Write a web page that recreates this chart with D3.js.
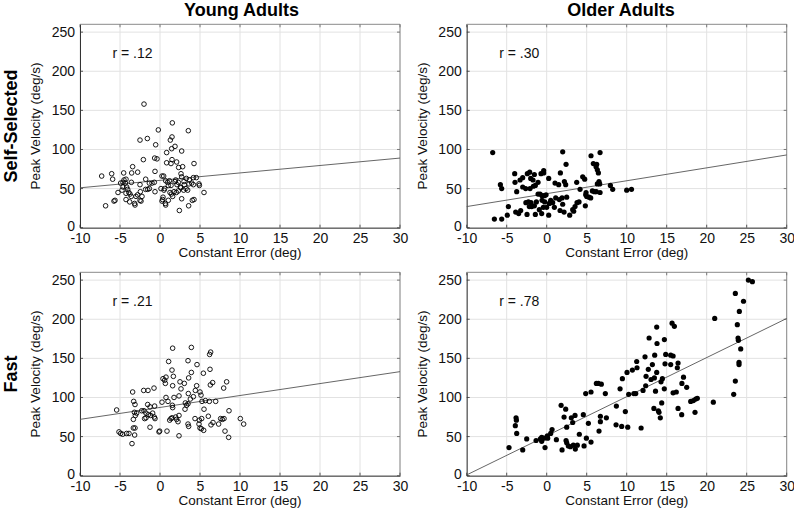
<!DOCTYPE html>
<html><head><meta charset="utf-8">
<script src="https://cdn.jsdelivr.net/npm/d3@7"></script>
<style>
html,body{margin:0;padding:0;background:#fff;}
svg{display:block;font-family:"Liberation Sans",Arial,Helvetica,sans-serif;}
</style></head>
<body>
<svg id="chart" width="794" height="512"></svg>
<script>
// ---------- data ----------
const xTicks = [-10, -5, 0, 5, 10, 15, 20, 25, 30];
const yTicks = [0, 50, 100, 150, 200, 250];
const columnTitles = ["Young Adults", "Older Adults"];
const rowTitles = ["Self-Selected", "Fast"];
const rLabels = ["r = .12", "r = .30", "r = .21", "r = .78"];
const xLabel = "Constant Error (deg)";
const yLabel = "Peak Velocity (deg/s)";

const youngSelf = [
[-2.0,158],[1.54,134],[3.54,124],[-0.21,125],[-1.58,114],[-2.5,112],[1.5,116],[1.29,112],[-0.54,106],[1.875,104],
[1.46,101],[2.71,98],[0.83,96],[-0.67,89],[-0.375,88],[-2.08,87],[1.5,87],[2.08,84],[0.83,83],[4.25,82],
[1.375,82],[2.33,77],[-3.42,78],[2.83,78],[-0.625,72],[-2.79,71],[-3.54,70],[-4.54,70],[-6.04,69],[-7.29,66],
[0.25,66],[0.46,66],[2.625,69],[2.71,65],[4.17,64],[4.54,64],[3.29,63],[3.67,61],[-5.92,62],[-4.5,61],
[-4.25,62],[-1.79,62],[-1.33,57],[-1.0,57],[-0.71,58],[-2.5,55],[-3.58,58],[-4.92,57],[-4.625,58],[-4.33,57],
[-4.17,52],[-4.04,49],[-4.625,52],[-4.75,48],[-5.25,45],[-4.25,44],[-3.9,45],[-3.75,43],[-4.25,36],[-3.79,33],
[-3.6,40],[-3.0,40],[-2.8,42],[-3.17,31],[-3.125,29],[-2.5,35],[-2.46,46],[-2.25,40],[-1.8,49],[-1.54,49],
[-0.625,46],[0.125,50],[0.58,50],[0.71,60],[0.96,58],[1.17,60],[1.375,54],[1.04,54],[1.875,59],[1.96,61],
[2.125,55],[2.29,58],[2.54,52],[2.29,47],[2.04,45],[1.75,46],[1.42,43],[1.25,45],[1.58,40],[3.0,59],
[3.04,55],[3.25,50],[2.96,48],[3.46,48],[3.625,56],[3.96,57],[4.17,55],[4.875,56],[4.92,54],[5.5,45],
[4.25,36],[4.04,35],[3.58,28],[2.71,37],[2.42,22],[0.375,39],[0.33,36],[0.25,34],[0.67,31],[1.04,35],
[0.71,29],[-6.8,28],[-5.75,34],[-5.625,35],[-2.375,34],[-1.33,50],[0.5,48],[2.6,51]
];
const olderSelf = [
[-6.75,96],[2.0,97],[6.67,96],[5.54,92],[2.42,81],[5.83,82],[6.25,81],[6.17,78],[6.33,74],[6.46,70],
[-0.375,73],[-0.375,70],[-4.0,69],[-2.125,71],[-2.42,69],[-1.54,68],[-0.71,69],[1.71,70],[4.5,65],[4.75,62],
[0.25,63],[-2.0,63],[-1.71,61],[-3.33,61],[2.21,59],[3.75,58],[6.54,59],[6.33,56],[6.625,56],[7.96,54],
[-3.96,58],[-1.08,58],[-5.79,55],[-5.625,50],[-3.0,64],[-3.0,52],[-2.625,50],[-1.67,53],[-1.42,54],[-2.08,50],
[1.04,57],[1.5,55],[2.375,55],[2.5,39],[4.17,49],[4.92,45],[4.875,42],[5.0,40],[5.29,39],[5.5,38],
[5.71,47],[5.96,46],[6.2,46],[6.67,45],[8.25,49],[10.0,48],[10.6,49],[-3.75,46],[-4.79,27],[-6.54,11],
[-5.625,11],[-4.92,16],[-3.875,20],[-3.5,18],[-3.25,22],[-2.46,17],[-2.6,32],[-2.29,33],[-1.96,32],[-1.875,27],
[-1.54,28],[-1.42,17],[-0.92,23],[-0.625,18],[-1.29,33],[-1.08,43],[-0.83,43],[-0.58,35],[-0.25,33],[0.0,26],
[-0.42,26],[0.25,16],[0.33,31],[0.75,32],[0.96,26],[1.125,38],[1.58,36],[1.92,38],[2.0,30],[1.67,22],
[2.17,20],[2.875,16],[3.25,23],[3.54,27],[3.79,32],[4.04,33],[3.375,21],[4.83,28],[-0.58,41],[-0.08,42],
[0.5,35],[-2.17,27],[-0.29,41]
];
const youngFast = [
[1.58,163],[3.92,164],[6.33,158],[6.2,155],[1.08,146],[3.5,147],[4.625,142],[1.5,135],[6.25,136],[3.92,132],
[5.42,131],[3.58,125],[0.375,124],[0.75,126],[0.58,122],[0.67,118],[1.67,127],[3.04,118],[2.5,120],[1.58,115],
[4.58,115],[6.58,119],[6.29,116],[8.33,120],[7.96,112],[4.42,109],[2.625,111],[-3.42,107],[-2.04,109],[-1.5,109],
[-0.75,112],[3.54,105],[5.0,107],[5.125,103],[4.17,101],[1.75,100],[2.375,102],[3.79,98],[0.75,100],[1.0,95],
[0.25,94],[-3.29,95],[-3.125,91],[-1.54,91],[-1.25,88],[-0.67,89],[1.54,90],[1.58,87],[3.17,93],[3.33,90],
[3.5,92],[3.125,85],[5.25,95],[5.67,96],[6.17,95],[6.96,95],[5.5,85],[8.625,83],[-5.42,84],[-2.92,80],
[-3.2,81],[-3.08,77],[-2.29,83],[-2.0,83],[-1.75,80],[-1.75,74],[-1.17,77],[-1.46,78],[-0.71,75],[-0.92,80],
[-1.92,73],[-3.33,72],[-0.625,73],[1.375,73],[1.5,74],[1.21,71],[1.96,75],[2.08,72],[2.375,77],[2.25,69],
[4.375,73],[4.92,71],[4.875,66],[5.21,73],[6.04,76],[6.625,68],[6.375,65],[7.33,66],[7.58,73],[7.79,72],
[8.0,73],[10.04,73],[10.46,66],[3.5,66],[3.58,63],[5.0,61],[5.17,60],[5.46,58],[8.125,57],[8.58,49],
[2.375,51],[0.875,57],[-0.125,56],[-0.04,57],[-1.25,62],[-3.33,61],[-3.125,61],[-3.17,52],[-5.125,56],[-4.92,54],
[-4.67,53],[-4.17,54],[-3.875,54],[-3.5,41]
];
const olderFast = [
[25.21,250],[25.71,248],[23.58,233],[24.6,223],[24.08,210],[21.0,201],[23.83,193],[23.92,176],[23.96,173],[24.25,162],
[24.04,145],[24.04,142],[23.58,121],[23.375,104],[20.83,94],[15.67,195],[15.96,191],[13.75,190],[12.8,176],[14.71,174],
[13.79,169],[13.5,154],[12.29,152],[14.875,155],[15.5,154],[15.8,153],[16.42,144],[16.33,138],[13.21,142],[11.25,146],
[11.29,138],[10.71,135],[10.04,132],[9.46,124],[12.7,136],[12.42,127],[13.04,123],[13.75,132],[13.46,125],[14.46,124],
[14.29,120],[14.79,143],[15.5,142],[17.1,126],[16.9,118],[17.5,113],[15.8,106],[16.2,107],[14.7,111],[13.6,108],
[12.04,109],[12.375,115],[11.13,105],[10.9,105],[10.25,104],[9.17,111],[9.83,82],[8.71,89],[10.13,62],[9.375,63],
[8.67,65],[11.8,61],[14.375,93],[13.4,86],[13.96,83],[14.04,81],[14.2,74],[16.42,86],[16.875,78],[18.0,95],
[18.33,96],[18.625,98],[18.83,99],[18.54,81],[6.21,118],[6.46,118],[6.83,117],[7.33,105],[5.54,107],[4.875,105],
[1.8,90],[2.375,85],[2.17,75],[3.08,74],[3.54,77],[4.58,78],[3.25,68],[2.5,62],[5.21,67],[6.71,76],
[6.71,69],[7.46,74],[6.54,57],[4.08,53],[0.67,59],[0.5,54],[0.08,51],[0.125,48],[-0.33,48],[-0.625,49],
[-0.79,47],[-0.625,44],[-0.21,36],[-1.33,45],[-2.5,47],[-3.83,74],[-3.79,71],[-3.92,64],[-3.75,54],[-4.71,36],
[-3.0,33],[1.21,46],[1.92,33],[2.5,42],[2.42,45],[2.71,38],[2.96,37],[3.33,39],[3.58,34],[3.83,39],
[4.67,38],[4.96,48],[5.54,43]
];

// regression lines (endpoints)
const youngSelfFit = [[-10, 51], [30, 89]];
const olderSelfFit = [[-10, 27], [30, 93]];
const youngFastFit = [[-10, 72], [30, 133]];
const olderFastFit = [[-10, 1], [30, 201]];

// ---------- layout ----------
const svg = d3.select("#chart");
svg.append("rect").attr("width", 794).attr("height", 512).attr("fill", "#fff");

const colLeft = [80, 466.7];
const rowBottom = [227.7, 475.7];
const pw = 320, ph = 203.4;
const FONT = '"Liberation Sans",Arial,Helvetica,sans-serif';
const fmt = d => String(d);

const panels = [
  {data: youngSelf, fit: youngSelfFit, r: rLabels[0], filled: false, col: 0, row: 0},
  {data: olderSelf, fit: olderSelfFit, r: rLabels[1], filled: true,  col: 1, row: 0},
  {data: youngFast, fit: youngFastFit, r: rLabels[2], filled: false, col: 0, row: 1},
  {data: olderFast, fit: olderFastFit, r: rLabels[3], filled: true,  col: 1, row: 1}
];

panels.forEach(p => {
  const left = colLeft[p.col], bottom = rowBottom[p.row], top = bottom - ph, right = left + pw;
  const x = d3.scaleLinear().domain([-10, 30]).range([left, right]);
  const y = d3.scaleLinear().domain([0, 260]).range([bottom, top]);
  const g = svg.append("g");

  // grid
  g.selectAll(".gx").data(xTicks).join("line")
    .attr("x1", d => x(d)).attr("x2", d => x(d)).attr("y1", top).attr("y2", bottom)
    .attr("stroke", "#e2e2e2").attr("stroke-width", 1);
  g.selectAll(".gy").data(yTicks).join("line")
    .attr("x1", left).attr("x2", right).attr("y1", d => y(d)).attr("y2", d => y(d))
    .attr("stroke", "#e2e2e2").attr("stroke-width", 1);

  // frame
  g.append("line").attr("x1", left).attr("x2", right).attr("y1", top).attr("y2", top).attr("stroke", "#8a8a8a");
  g.append("line").attr("x1", right).attr("x2", right).attr("y1", top).attr("y2", bottom).attr("stroke", "#8a8a8a");

  // small inward ticks
  const tk = 3;
  xTicks.forEach(t => {
    g.append("line").attr("x1", x(t)).attr("x2", x(t)).attr("y1", bottom).attr("y2", bottom - tk).attr("stroke", "#555");
    g.append("line").attr("x1", x(t)).attr("x2", x(t)).attr("y1", top).attr("y2", top + tk).attr("stroke", "#777");
  });
  yTicks.forEach(t => {
    g.append("line").attr("x1", left).attr("x2", left + tk).attr("y1", y(t)).attr("y2", y(t)).attr("stroke", "#555");
    g.append("line").attr("x1", right).attr("x2", right - tk).attr("y1", y(t)).attr("y2", y(t)).attr("stroke", "#777");
  });

  // axes
  const ax = g.append("g").attr("transform", `translate(0,${bottom})`)
    .call(d3.axisBottom(x).tickValues(xTicks).tickSize(0).tickPadding(5).tickFormat(fmt));
  ax.select(".domain").attr("stroke", "#333");
  ax.selectAll("text").attr("font-size", 14).attr("font-family", FONT).attr("fill", "#111");
  const ay = g.append("g").attr("transform", `translate(${left},0)`)
    .call(d3.axisLeft(y).tickValues(yTicks).tickSize(0).tickPadding(5).tickFormat(fmt));
  ay.select(".domain").attr("stroke", "#333");
  ay.selectAll("text").attr("font-size", 14).attr("font-family", FONT).attr("fill", "#111")
    .attr("dy", d => d === 0 ? "0.2em" : "0.32em");

  // axis labels
  g.append("text").attr("x", (left + right) / 2).attr("y", bottom + 29)
    .attr("text-anchor", "middle").attr("font-size", 13.5).attr("fill", "#111").text(xLabel);
  g.append("text").attr("transform", `translate(${left - 40},${(top + bottom) / 2}) rotate(-90)`)
    .attr("text-anchor", "middle").attr("font-size", 13.5).attr("fill", "#111").text(yLabel);

  // regression line
  g.append("line")
    .attr("x1", x(p.fit[0][0])).attr("y1", y(p.fit[0][1]))
    .attr("x2", x(p.fit[1][0])).attr("y2", y(p.fit[1][1]))
    .attr("stroke", "#555").attr("stroke-width", 0.9);

  // points
  g.selectAll("circle").data(p.data).join("circle")
    .attr("cx", d => x(d[0])).attr("cy", d => y(d[1]))
    .attr("r", p.filled ? 2.6 : 2.3)
    .attr("fill", p.filled ? "#000" : "none")
    .attr("stroke", "#000").attr("stroke-width", p.filled ? 0 : 0.9);

  // r label
  g.append("text").attr("x", left + 32.5).attr("y", top + 34)
    .attr("font-size", 14).attr("fill", "#111").text(p.r);
});

// column titles
svg.append("text").attr("x", 241.5).attr("y", 16).attr("text-anchor", "middle")
  .attr("font-size", 18).attr("font-weight", "bold").attr("fill", "#000").text(columnTitles[0]);
svg.append("text").attr("x", 621).attr("y", 16).attr("text-anchor", "middle")
  .attr("font-size", 18).attr("font-weight", "bold").attr("fill", "#000").text(columnTitles[1]);

// row titles
svg.append("text").attr("transform", `translate(17,${(rowBottom[0] - ph / 2)}) rotate(-90)`)
  .attr("text-anchor", "middle").attr("font-size", 18).attr("font-weight", "bold").attr("fill", "#000").text(rowTitles[0]);
svg.append("text").attr("transform", `translate(17,${(rowBottom[1] - ph / 2)}) rotate(-90)`)
  .attr("text-anchor", "middle").attr("font-size", 18).attr("font-weight", "bold").attr("fill", "#000").text(rowTitles[1]);
</script>
</body></html>
